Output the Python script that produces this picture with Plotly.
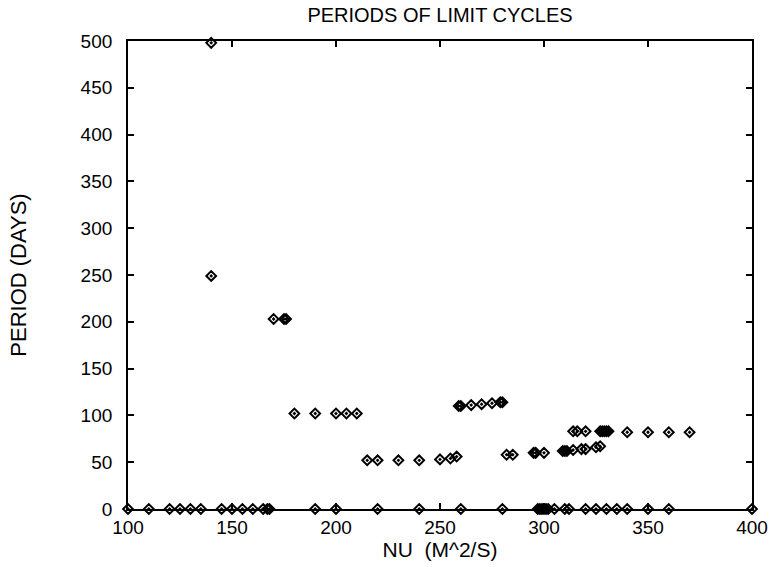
import plotly.graph_objects as go

# Limit-cycle periods (non-zero)
nu_cycles = [140, 140,
             170, 175, 176,
             180, 190, 200, 205, 210,
             215, 220, 230, 240, 250, 255, 258,
             259, 260, 265, 270, 275, 279, 280,
             282, 285,
             295, 296, 300,
             309, 310, 311, 314, 318, 320,
             325, 327,
             314, 316, 320, 327, 328, 329, 330, 331, 340, 350, 360, 370]
period_cycles = [498, 249,
                 203, 203, 203,
                 102, 102, 102, 102, 102,
                 52, 52, 52, 52, 53, 54, 56,
                 110, 110, 111, 112, 113, 114, 114,
                 58, 58,
                 60, 60, 60,
                 62, 62, 62, 63, 64, 64,
                 66, 67,
                 83, 83, 83, 83, 83, 83, 83, 83, 82, 82, 82, 82]

# Runs with no limit cycle (period 0)
nu_zero = [100, 110, 120, 125, 130, 135, 145, 150, 155, 160, 165, 167, 168,
           190, 200, 220, 240, 260, 280,
           297, 298, 299, 300, 301, 302, 305, 310, 312,
           320, 325, 330, 335, 340, 350, 360, 400]
period_zero = [0] * len(nu_zero)

x_ticks = [100, 150, 200, 250, 300, 350, 400]
y_ticks = [0, 50, 100, 150, 200, 250, 300, 350, 400, 450, 500]

FONT = "Liberation Sans, Arial, Helvetica, sans-serif"
marker = dict(symbol="diamond-open-dot", size=7.5, color="black",
              line=dict(width=2, color="black"))

fig = go.Figure()
fig.add_trace(go.Scatter(x=nu_cycles, y=period_cycles, mode="markers",
                         marker=marker, cliponaxis=False, showlegend=False))
fig.add_trace(go.Scatter(x=nu_zero, y=period_zero, mode="markers",
                         marker=marker, cliponaxis=False, showlegend=False))

axis_common = dict(showline=True, linecolor="black", linewidth=1.8,
                   mirror="ticks", ticks="inside", ticklen=6, tickwidth=1.5,
                   tickcolor="black", showgrid=False, zeroline=False,
                   automargin=False,
                   tickfont=dict(family=FONT, size=19, color="black"))

fig.update_layout(
    width=771, height=567,
    margin=dict(l=128, r=19, t=41, b=58),
    paper_bgcolor="white", plot_bgcolor="white",
    font=dict(family=FONT, color="black"),
    title=dict(text="PERIODS OF LIMIT CYCLES", x=0.5, xref="paper",
               y=1 - 15 / 567, yref="container", yanchor="middle",
               font=dict(family=FONT, size=20, color="black")),
    xaxis=dict(range=[100, 400], tickvals=x_ticks, ticktext=[str(v) for v in x_ticks],
               title=dict(text="NU\u00a0 (M^2/S)", font=dict(family=FONT, size=21), standoff=2),
               ticklabelstandoff=0,
               **axis_common),
    yaxis=dict(range=[0, 500], tickvals=y_ticks, ticktext=[str(v) for v in y_ticks],
               title=dict(text="PERIOD (DAYS)", font=dict(family=FONT, size=22), standoff=48),
               ticklabelstandoff=10,
               **axis_common),
)

fig.write_html("out.html",
               config={"displayModeBar": False},
               post_script="document.body.style.margin='0';document.body.style.padding='0';")
